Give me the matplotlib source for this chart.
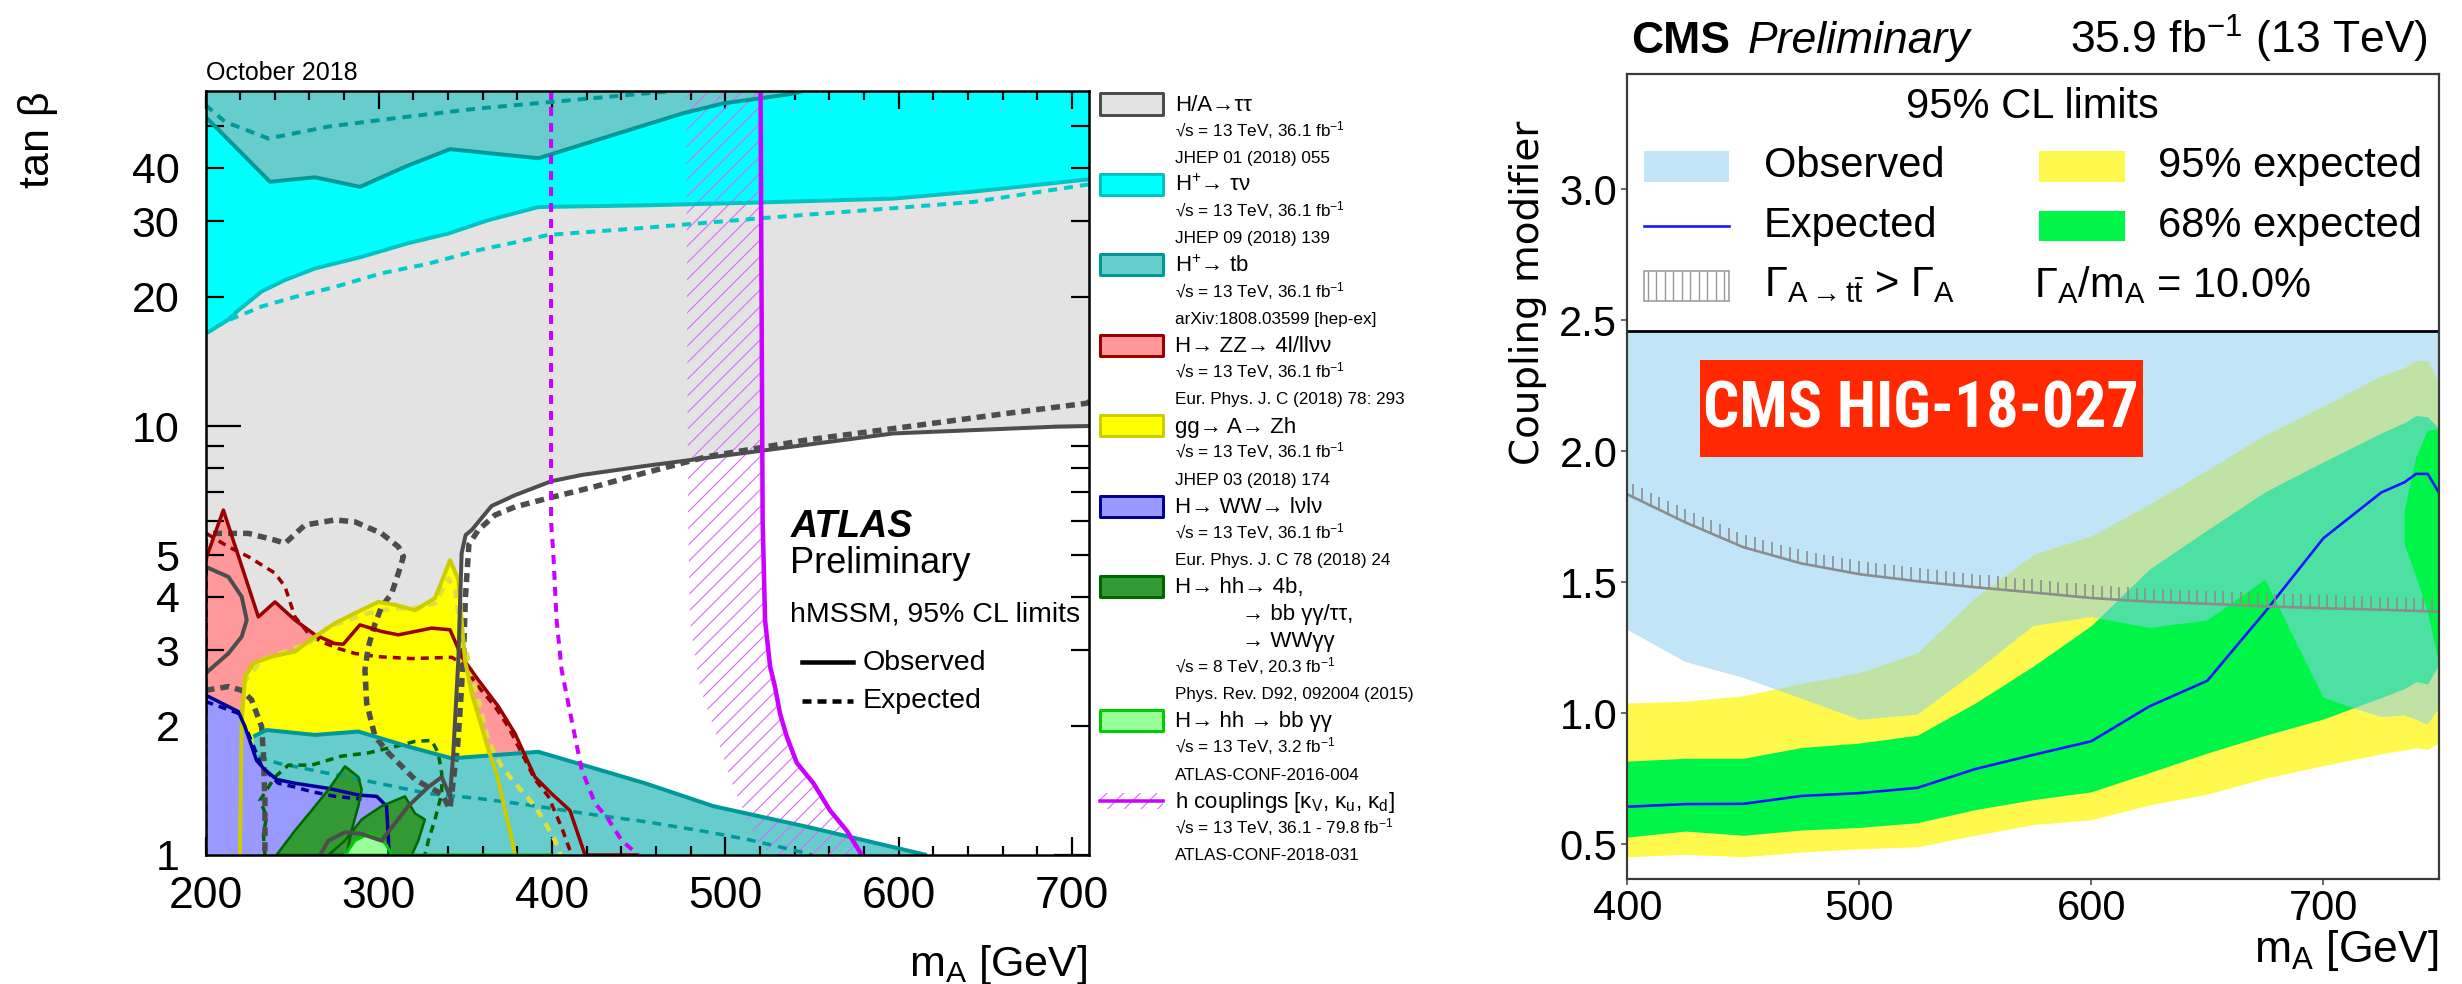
import numpy as np
import matplotlib
matplotlib.use("Agg")
import matplotlib.pyplot as plt
from matplotlib.patches import Polygon, Rectangle
from matplotlib.lines import Line2D
from matplotlib.ticker import FixedLocator, FuncFormatter
from matplotlib import font_manager

# ===================== DATA : ATLAS hMSSM summary (m_A [GeV], tan beta) =====================
tautau_obs_x = [710, 689.2, 596.9, 479.6, 453.6, 417.1, 399.7, 378.6, 365.1, 358.4, 353.6, 350.1, 347.8,
                345.9, 343.0, 341.1, 336.3, 328.6, 317.0, 301.6, 290.1, 280.5, 270.9, 266.1]
tautau_obs_y = [10.0, 9.96, 9.61, 8.33, 8.07, 7.69, 7.44, 6.90, 6.51, 6.04, 5.72, 5.57, 5.05,
                2.85, 1.73, 1.37, 1.52, 1.44, 1.30, 1.08, 1.12, 1.13, 1.08, 1.0]
tautau_loop_x = [200, 213.2, 220.9, 223.8, 220.9, 213.2, 200]
tautau_loop_y = [4.70, 4.45, 4.00, 3.53, 3.23, 2.95, 2.65]
tautau_exp_x = [710, 708.4, 662.3, 604.6, 546.9, 489.2, 452.6, 424.5, 399.7, 378.6, 367.0, 357.4, 352.0,
                350.0, 349.0, 347.0, 345.5, 341.0, 336.3, 328.6, 320.9, 313.2, 305.5, 297.8, 293.0, 292.0,
                294.0, 297.8, 301.6, 307.4, 311.3, 314.2, 311.3, 301.6, 286.2, 274.7, 257.4, 245.9, 240.1,
                224.7, 213.2, 200]
tautau_exp_y = [11.4, 11.3, 10.7, 9.96, 9.28, 8.48, 7.76, 7.22, 6.82, 6.48, 6.20, 5.72, 5.30,
                4.00, 3.00, 2.20, 1.80, 1.28, 1.39, 1.44, 1.50, 1.61, 1.73, 1.89, 2.26, 2.70,
                3.06, 3.46, 3.79, 4.07, 4.54, 4.96, 5.23, 5.62, 5.98, 6.04, 5.88, 5.33, 5.42,
                5.62, 5.62, 5.62]
tautau_exp2_x = [200, 213.2, 220.9, 226.6, 232.4, 233.4, 234.3, 234.3]
tautau_exp2_y = [2.42, 2.47, 2.42, 2.30, 1.99, 1.73, 1.32, 1.0]

taunu_obs_x = [200, 213.2, 218.9, 232.4, 245.9, 263.2, 290.1, 317.1, 340.1, 363.2, 392.1, 453.6, 520.0,
               596.9, 643.1, 710]
taunu_obs_y = [16.4, 17.7, 18.6, 20.6, 21.9, 23.3, 24.8, 26.7, 28.1, 30.2, 32.4, 32.7, 33.2,
               33.9, 35.2, 37.6]
taunu_exp_x = [214.1, 232.4, 251.6, 274.7, 301.6, 328.6, 357.4, 376.7, 397.8, 449.8, 520.0, 596.9, 643.1, 710]
taunu_exp_y = [17.7, 19.0, 20.0, 21.1, 22.7, 23.9, 25.7, 26.7, 27.9, 28.9, 30.5, 32.2, 33.3, 36.6]

tb_top_obs_x = [200, 237.2, 263.2, 289.2, 315.1, 341.1, 392.1, 453.6, 475.7, 498.8, 537.3, 545]
tb_top_obs_y = [52.6, 37.1, 38.0, 36.1, 40.2, 44.2, 42.1, 50.3, 53.6, 56.5, 59.4, 60.4]
tb_top_exp_x = [200, 211.3, 236.3, 270.9, 309.4, 357.4, 400.7, 453.6, 470]
tb_top_exp_y = [56.0, 51.2, 46.8, 49.9, 52.2, 55.0, 57.0, 59.6, 60.4]
tb_bot_obs_x = [227.6, 235.3, 263.2, 288.2, 317.1, 342.1, 392.1, 453.6, 493.0, 546.9, 616.1]
tb_bot_obs_y = [1.888, 1.956, 1.905, 1.94, 1.789, 1.68, 1.74, 1.47, 1.30, 1.164, 1.0]
tb_bot_exp_x = [230.5, 242, 270.9, 299.8, 328.6, 357.4, 386.3, 424.7, 453.6, 489.2, 514.2, 543.1, 550]
tb_bot_exp_y = [1.695, 1.636, 1.55, 1.47, 1.39, 1.355, 1.308, 1.24, 1.196, 1.133, 1.084, 1.018, 1.0]

zz_obs_x = [200, 210.3, 230.5, 240.1, 251.6, 263.2, 274.7, 279.5, 289.1, 301.6, 311.3, 330.5, 341.1, 347.8,
            357.4, 369.0, 378.6, 390.1, 399.7, 410.3, 419.0, 450]
zz_obs_y = [4.87, 6.37, 3.59, 3.89, 3.53, 3.26, 3.11, 3.10, 3.44, 3.32, 3.26, 3.38, 3.35, 2.90,
            2.56, 2.22, 1.92, 1.52, 1.39, 1.27, 1.0, 1.0]
zz_exp_x = [200, 200.5, 213.2, 224.7, 240.1, 245.9, 251.6, 259.3, 267.0, 276.6, 286.2, 299.8, 319.0, 342.1,
            347.8, 357.4, 367.0, 374.7, 382.4, 390.1, 397.8, 405.5, 411.3]
zz_exp_y = [1.0, 5.62, 5.23, 4.96, 4.54, 4.22, 3.59, 3.29, 3.14, 3.03, 2.95, 2.90, 2.87, 2.89,
            2.80, 2.47, 2.22, 1.99, 1.73, 1.50, 1.37, 1.16, 1.0]

zh_obs_x = [219.9, 220.9, 222.8, 227.6, 238.2, 251.6, 263.2, 274.7, 286.2, 299.7, 309.4, 320.9, 332.4, 338.2,
            341.1, 345.9, 347.8, 349.7, 353.6, 359.4, 363.2, 368.0, 371.9, 375.7, 378.6]
zh_obs_y = [1.0, 2.06, 2.60, 2.80, 2.90, 2.98, 3.23, 3.47, 3.66, 3.89, 3.83, 3.72, 3.97, 4.54,
            4.87, 4.38, 3.53, 2.85, 2.38, 1.99, 1.76, 1.55, 1.32, 1.14, 1.0]
zh_exp_x = [221.8, 232.4, 259.3, 270.9, 282.4, 294.0, 309.4, 320.9, 332.4, 340.1, 344.0, 347.8, 351.7, 355.5,
            359.4, 363.2, 370.9, 380.5, 390.1, 395.9, 401.7, 405]
zh_exp_y = [2.51, 2.85, 3.11, 3.40, 3.53, 3.66, 3.76, 3.76, 3.86, 4.41, 4.15, 3.23, 2.85, 2.47,
            2.14, 1.85, 1.61, 1.44, 1.30, 1.19, 1.08, 1.0]

ww_obs_x = [200, 218.9, 222.8, 229.5, 234.3, 241.1, 251.6, 270.9, 288.2, 298.8, 304.5, 306]
ww_obs_y = [2.36, 2.16, 1.99, 1.66, 1.58, 1.50, 1.47, 1.43, 1.38, 1.37, 1.30, 1.0]
ww_exp_x = [200, 218.9, 224.7, 232.4, 242.0, 251.6, 261.2, 274.7, 290]
ww_exp_y = [2.28, 2.14, 1.92, 1.61, 1.47, 1.44, 1.405, 1.37, 1.35]

hh_blob1_x = [241.0, 251.6, 261.2, 270.9, 280.5, 288.2, 290.1, 288.2, 284.3, 281.4]
hh_blob1_y = [1.0, 1.14, 1.27, 1.42, 1.61, 1.52, 1.42, 1.30, 1.14, 1.0]
hh_blob2_x = [270.9, 280.5, 290.1, 301.6, 315.1, 320.9, 326.6, 322.8, 319.0]
hh_blob2_y = [1.0, 1.08, 1.21, 1.30, 1.37, 1.25, 1.21, 1.08, 1.0]
hh_exp_x = [234.3, 233.4, 235.3, 231.4, 240.1, 247.8, 261.2, 278.5, 294.0, 309.4, 320.9, 330.5, 334.3,
            336.3, 336.3, 332.4, 328.6, 326.6]
hh_exp_y = [1.0, 1.12, 1.23, 1.34, 1.52, 1.62, 1.62, 1.70, 1.73, 1.79, 1.84, 1.85, 1.73,
            1.55, 1.39, 1.21, 1.08, 1.0]
bbgg_x = [280.5, 286.2, 294.0, 299.8, 304.5, 307.4, 400]
bbgg_y = [1.0, 1.08, 1.12, 1.10, 1.055, 1.0, 1.0]

hcoup_obs_x = [520.3, 521.5, 522.9, 525.8, 528.6, 531.5, 535.4, 541.2, 550.8, 560.4, 570.0, 578.7]
hcoup_obs_y = [60.4, 6.0, 3.53, 2.75, 2.47, 2.14, 1.89, 1.64, 1.47, 1.27, 1.14, 1.0]
hcoup_band_x = [477.3, 478.5, 479.6, 485.3, 494.9, 504.6, 518.0, 527.6]
hcoup_band_y = [60.4, 6.0, 3.5, 2.47, 1.89, 1.44, 1.08, 1.0]
hcoup_exp_x = [399.4, 399.4, 400.7, 402.6, 405.5, 411.3, 417.1, 424.8, 432.5, 440.2, 449.8]
hcoup_exp_y = [60.4, 6.0, 5.05, 3.53, 2.70, 2.06, 1.58, 1.32, 1.21, 1.08, 1.0]

atlas_xticks = [200, 300, 400, 500, 600, 700]
atlas_ylabels = [1, 2, 3, 4, 5, 10, 20, 30, 40]

# ===================== DATA : CMS HIG-18-027 (m_A [GeV], coupling modifier) =====================
cms_mass = [400, 425, 450, 475, 500, 525, 550, 575, 600, 625, 650, 675, 700, 725, 735, 740, 745, 750]
cms_expected = [0.643, 0.653, 0.654, 0.684, 0.695, 0.715, 0.787, 0.841, 0.893, 1.026, 1.124, 1.388,
                1.668, 1.843, 1.882, 1.914, 1.914, 1.84]
cms_68_lo = [0.527, 0.550, 0.534, 0.554, 0.564, 0.582, 0.632, 0.670, 0.700, 0.773, 0.848, 0.916,
             0.978, 1.06, 1.094, 1.121, 1.112, 1.19]
cms_68_hi = [0.817, 0.828, 0.828, 0.869, 0.886, 0.916, 1.039, 1.18, 1.335, 1.55, 1.70, 1.846,
             1.96, 2.07, 2.11, 2.137, 2.132, 2.085]
cms_95_lo = [0.452, 0.461, 0.452, 0.470, 0.482, 0.490, 0.534, 0.575, 0.593, 0.650, 0.691, 0.752,
             0.800, 0.845, 0.86, 0.868, 0.862, 0.889]
cms_95_hi = [1.039, 1.046, 1.067, 1.114, 1.155, 1.231, 1.442, 1.606, 1.677, 1.798, 1.929, 2.064,
             2.173, 2.289, 2.32, 2.347, 2.347, 2.262]
cms_obs_x = [400, 425, 450, 475, 500, 525, 550, 575, 600, 625, 650, 675, 700, 712, 725, 735, 745, 750]
cms_obs_y = [1.319, 1.196, 1.135, 1.056, 0.975, 0.994, 1.157, 1.333, 1.367, 1.326, 1.354, 1.51,
             1.06, 1.022, 0.985, 0.992, 0.957, 1.019]
cms_obs_gap_x = [750, 745, 740, 735, 735, 740, 745, 750]
cms_obs_gap_y = [1.19, 1.388, 1.524, 1.647, 1.770, 1.975, 2.078, 2.085]
gamma_x = [400, 425, 450, 475, 500, 525, 550, 575, 600, 625, 650, 675, 700, 725, 750]
gamma_y = [1.836, 1.729, 1.634, 1.572, 1.531, 1.504, 1.481, 1.461, 1.440, 1.426, 1.418, 1.408,
           1.401, 1.395, 1.388]
cms_xticks = [400, 500, 600, 700]
cms_yticks = [0.5, 1.0, 1.5, 2.0, 2.5, 3.0]

# ===================== STYLE / LAYOUT =====================
W, H, DPI = 2462, 984, 100
plt.rcParams['font.family'] = ['Liberation Sans', 'DejaVu Sans']
plt.rcParams['mathtext.fontset'] = 'custom'
plt.rcParams['mathtext.rm'] = 'Liberation Sans'
plt.rcParams['mathtext.it'] = 'Liberation Sans:italic'
plt.rcParams['mathtext.bf'] = 'Liberation Sans:bold'
plt.rcParams['hatch.linewidth'] = 0.8


def pt(px):
    return px * 72.0 / DPI


def fx(x):
    return x / W


def fy(y):
    return 1.0 - y / H


def dash(on, off, lwpx):
    return (0, (on / lwpx, off / lwpx))


fig = plt.figure(figsize=(W / DPI, H / DPI), dpi=DPI)
fig.patch.set_facecolor('white')

# ----------------------------- ATLAS panel -----------------------------
YT = 60.4
ax = fig.add_axes([fx(205.5), fy(855), (1089.3 - 205.5) / W, (855 - 91) / H])
ax.set_xlim(200, 710)
ax.set_yscale('log')
ax.set_ylim(1, YT)


def poly(xs, ys, fc, z):
    ax.add_patch(Polygon(np.column_stack([xs, ys]), closed=True, fc=fc, ec='none', lw=0, zorder=z))


def line(xs, ys, color, lwpx, dashed=None, z=4):
    ls = '-' if dashed is None else dash(dashed[0], dashed[1], lwpx)
    ax.plot(xs, ys, color=color, lw=pt(lwpx), ls=ls, zorder=z, solid_joinstyle='round',
            dash_capstyle='butt', solid_capstyle='butt')


C_TT, C_TT_L = '#e3e3e3', '#4d4d4d'
C_TN, C_TN_L = '#00ffff', '#00c4c4'
C_TB, C_TB_L = '#66cccc', '#009999'
C_ZZ, C_ZZ_L = '#ff9999', '#990000'
C_ZH, C_ZH_L = '#ffff00', '#cccc00'
C_WW, C_WW_L = '#9999ff', '#000099'
C_HH, C_HH_L = '#339933', '#006600'
C_BB, C_BB_L = '#99ff99', '#00cc00'
C_HC = '#cc00ff'

poly([200, 710] + tautau_obs_x + [200], [YT, YT] + tautau_obs_y + [1.0], C_TT, 1.0)
poly(taunu_obs_x + [710, 200], taunu_obs_y + [YT, YT], C_TN, 1.1)
poly(tb_top_obs_x + [200], tb_top_obs_y + [YT], C_TB, 1.2)
poly([200] + zz_obs_x, [1.0] + zz_obs_y, C_ZZ, 1.3)
poly(zh_obs_x, zh_obs_y, C_ZH, 1.4)
poly([227.6] + tb_bot_obs_x, [1.0] + tb_bot_obs_y, C_TB, 1.5)
poly([200] + ww_obs_x, [1.0] + ww_obs_y, C_WW, 1.6)
poly(hh_blob1_x, hh_blob1_y, C_HH, 1.7)
poly(hh_blob2_x, hh_blob2_y, C_HH, 1.7)
poly(bbgg_x, bbgg_y, C_BB, 1.8)
ax.add_patch(Polygon(np.column_stack([hcoup_band_x + hcoup_obs_x[::-1], hcoup_band_y + hcoup_obs_y[::-1]]),
                     closed=True, fc='none', ec='#d86bff', lw=0, hatch='//', zorder=2.5))

# expected (dashed)
line(tb_top_exp_x, tb_top_exp_y, C_TB_L, 4, (9, 7))
line(taunu_exp_x, taunu_exp_y, '#00cccc', 4, (9, 7))
line(tb_bot_exp_x, tb_bot_exp_y, C_TB_L, 3.5, (9, 7))
line(zz_exp_x, zz_exp_y, C_ZZ_L, 3.5, (8, 6))
line(zh_exp_x, zh_exp_y, '#dede40', 4.5, (9, 7))
line(ww_exp_x, ww_exp_y, C_WW_L, 3.5, (8, 6))
line(hh_exp_x, hh_exp_y, C_HH_L, 3.5, (8, 6))
line(tautau_exp_x, tautau_exp_y, C_TT_L, 5.5, (9, 6))
line(tautau_exp2_x, tautau_exp2_y, C_TT_L, 5.5, (9, 6))
line(hcoup_exp_x, hcoup_exp_y, C_HC, 4, (9, 7), z=5)
# observed (solid)
line(tb_top_obs_x, tb_top_obs_y, C_TB_L, 4)
line(taunu_obs_x, taunu_obs_y, C_TN_L, 4)
line(tb_bot_obs_x, tb_bot_obs_y, C_TB_L, 4)
line(zz_obs_x, zz_obs_y, C_ZZ_L, 3.5)
line(zh_obs_x, zh_obs_y, C_ZH_L, 4)
line(ww_obs_x, ww_obs_y, C_WW_L, 3.5)
line(hh_blob1_x + hh_blob1_x[:1], hh_blob1_y + hh_blob1_y[:1], C_HH_L, 2.5)
line(hh_blob2_x + hh_blob2_x[:1], hh_blob2_y + hh_blob2_y[:1], C_HH_L, 2.5)
line(bbgg_x, bbgg_y, C_BB_L, 3)
line(tautau_obs_x, tautau_obs_y, C_TT_L, 4)
line(tautau_loop_x, tautau_loop_y, C_TT_L, 4)
line(hcoup_obs_x, hcoup_obs_y, C_HC, 4.5, z=5)

for s in ax.spines.values():
    s.set_linewidth(pt(2.5))
    s.set_zorder(10)
ax.set_xticks(atlas_xticks)
ax.xaxis.set_minor_locator(FixedLocator(np.arange(200, 711, 20)))
ax.yaxis.set_major_locator(FixedLocator([1, 10]))
ax.yaxis.set_minor_locator(FixedLocator([2, 3, 4, 5, 6, 7, 8, 9, 20, 30, 40, 50]))
ax.yaxis.set_major_formatter(FuncFormatter(lambda v, p: '%g' % v))
ax.yaxis.set_minor_formatter(FuncFormatter(lambda v, p: ('%g' % v) if round(v) in atlas_ylabels else ''))
ax.xaxis.set_major_formatter(FuncFormatter(lambda v, p: '%d' % v))
ax.tick_params(axis='x', which='major', direction='in', length=pt(18), width=pt(2.2), top=True,
               labelsize=32, pad=pt(21))
ax.tick_params(axis='x', which='minor', direction='in', length=pt(9), width=pt(2.2), top=True)
ax.tick_params(axis='y', which='major', direction='in', length=pt(35), width=pt(2.2), right=True,
               labelsize=31, pad=pt(26))
ax.tick_params(axis='y', which='minor', direction='in', length=pt(17.7), width=pt(2.2), right=True,
               labelsize=31, pad=pt(26))

fig.text(fx(205.5), fy(72.5), 'October 2018', fontsize=18, va='center', ha='left')
fig.text(fx(38), fy(91), 'tan β', fontsize=31, rotation=90, va='top', ha='center')
fig.text(fx(1087), fy(976), r'm$_\mathregular{A}$ [GeV]', fontsize=31, va='baseline', ha='right')
fig.text(fx(791), fy(536.7), 'ATLAS', fontsize=27, weight='bold', style='italic', va='baseline')
fig.text(fx(790), fy(573.3), 'Preliminary', fontsize=26, va='baseline')
fig.text(fx(790), fy(621.7), 'hMSSM, 95% CL limits', fontsize=20.5, va='baseline')
fig.add_artist(Line2D([fx(801.7), fx(853.3)], [fy(661.7), fy(661.7)], color='black', lw=pt(4.5)))
fig.add_artist(Line2D([fx(801.7), fx(853.3)], [fy(701), fy(701)], color='black', lw=pt(4.5),
                      ls=dash(9, 6, 4.5)))
fig.text(fx(863), fy(670), 'Observed', fontsize=20.5, va='baseline')
fig.text(fx(863), fy(708.3), 'Expected', fontsize=20.5, va='baseline')

# ATLAS legend
sub13 = r'√s = 13 TeV, 36.1 fb$^\mathregular{-1}$'
legend_entries = [
    (C_TT, C_TT_L, ['H/A→ττ'], [sub13, 'JHEP 01 (2018) 055']),
    (C_TN, C_TN_L, [r'H$^\mathregular{+}$→ τν'], [sub13, 'JHEP 09 (2018) 139']),
    (C_TB, C_TB_L, [r'H$^\mathregular{+}$→ tb'], [sub13, 'arXiv:1808.03599 [hep-ex]']),
    (C_ZZ, C_ZZ_L, ['H→ ZZ→ 4l/llνν'], [sub13, 'Eur. Phys. J. C (2018) 78: 293']),
    (C_ZH, C_ZH_L, ['gg→ A→ Zh'], [sub13, 'JHEP 03 (2018) 174']),
    (C_WW, C_WW_L, ['H→ WW→ lνlν'], [sub13, 'Eur. Phys. J. C 78 (2018) 24']),
    (C_HH, C_HH_L, ['H→ hh→ 4b,', '→ bb γγ/ττ,', '→ WWγγ'],
     [r'√s = 8 TeV, 20.3 fb$^\mathregular{-1}$', 'Phys. Rev. D92, 092004 (2015)']),
    (C_BB, C_BB_L, ['H→ hh → bb γγ'], [r'√s = 13 TeV, 3.2 fb$^\mathregular{-1}$', 'ATLAS-CONF-2016-004']),
    (None, C_HC, [r'h couplings [κ$_\mathregular{V}$, κ$_\mathregular{u}$, κ$_\mathregular{d}$]'],
     [r'√s = 13 TeV, 36.1 - 79.8 fb$^\mathregular{-1}$', 'ATLAS-CONF-2018-031']),
]
n = 0
for fc, ec, mains, subs in legend_entries:
    yb = 111 + n * 26.8
    yc = yb - 7
    if fc is not None:
        fig.add_artist(Rectangle((fx(1100), fy(yc + 10.5)), 63 / W, 21 / H, fc=fc, ec=ec, lw=pt(3),
                                 transform=fig.transFigure, joinstyle='round'))
    else:
        fig.add_artist(Rectangle((fx(1100), fy(yc + 8)), 63 / W, 16 / H, fc='none', ec='#d86bff', lw=0,
                                 hatch='//', transform=fig.transFigure))
        fig.add_artist(Line2D([fx(1100), fx(1163)], [fy(yc), fy(yc)], color=ec, lw=pt(3.5)))
    for k, t in enumerate(mains):
        xt = 1175 if k == 0 else 1241.7
        fig.text(fx(xt), fy(111 + n * 26.8), t, fontsize=16, va='baseline')
        n += 1
    for t in subs:
        fig.text(fx(1175), fy(111 + n * 26.8 - 1.5), t, fontsize=12.3, va='baseline')
        n += 1

# ----------------------------- CMS panel -----------------------------
YB2, YT2 = 0.367, 3.441
LEG_Y = 2.46
ax2 = fig.add_axes([fx(1627.3), fy(879), (2439.3 - 1627.3) / W, (879 - 74) / H])
ax2.set_xlim(400, 750)
ax2.set_ylim(YB2, YT2)
ax2.fill_between(cms_mass, cms_95_lo, cms_95_hi, color='#fff94d', lw=0, zorder=1)
ax2.fill_between(cms_mass, cms_68_lo, cms_68_hi, color='#00f548', lw=0, zorder=1.1)
obs_px = cms_obs_x + cms_obs_gap_x + [750, 400]
obs_py = cms_obs_y + cms_obs_gap_y + [YT2, YT2]
ax2.add_patch(Polygon(np.column_stack([obs_px, obs_py]), closed=True, fc=(142 / 255, 207 / 255, 240 / 255),
                      alpha=0.54, ec='none', lw=0, zorder=1.2))
ax2.plot(cms_mass, cms_expected, color='#1414ff', lw=pt(2.6), zorder=3)
ax2.plot(gamma_x, gamma_y, color='#8c8c8c', lw=pt(2.6), zorder=3)
hx = np.arange(402.6, 750, 3.74)
hy = np.interp(hx, gamma_x, gamma_y)
ax2.vlines(hx, hy, hy + 0.05, color='#8c8c8c', lw=pt(1.6), zorder=3)
frac = (LEG_Y - YB2) / (YT2 - YB2)
ax2.add_patch(Rectangle((0, frac), 1, 1 - frac, transform=ax2.transAxes, fc='white', ec='none', zorder=5))
ax2.axhline(LEG_Y, color='black', lw=pt(2.8), zorder=6)
for s in ax2.spines.values():
    s.set_linewidth(pt(2.2))
    s.set_color('#3a3a3a')
    s.set_zorder(10)
ax2.set_xticks(cms_xticks)
ax2.set_yticks(cms_yticks)
ax2.xaxis.set_major_formatter(FuncFormatter(lambda v, p: '%d' % v))
ax2.yaxis.set_major_formatter(FuncFormatter(lambda v, p: '%.1f' % v))
ax2.tick_params(axis='both', direction='out', length=pt(6), width=pt(1.5), labelsize=30, color='#3a3a3a')
ax2.tick_params(axis='x', pad=pt(4))
ax2.tick_params(axis='y', pad=pt(4))

fig.text(fx(1630.8), fy(53.3), 'CMS', fontsize=32, weight='bold', va='baseline')
fig.text(fx(1748), fy(53.3), 'Preliminary', fontsize=32, style='italic', va='baseline')
fig.text(fx(2428), fy(53.3), r'35.9 fb$^\mathregular{-1}$ (13 TeV)', fontsize=32, va='baseline', ha='right')
fig.text(fx(1528), fy(293), 'Coupling modifier', fontsize=28, rotation=90, va='center', ha='center',
         family=['DejaVu Sans'])
fig.text(fx(2438), fy(962), r'm$_\mathregular{A}$ [GeV]', fontsize=32, va='baseline', ha='right')

# CMS legend
fig.text(fx(2032), fy(107), '95% CL limits', fontsize=30, va='center', ha='center', zorder=20)


def frect(x0, x1, y0, y1, **kw):
    fig.add_artist(Rectangle((fx(x0), fy(y1)), (x1 - x0) / W, (y1 - y0) / H, transform=fig.transFigure,
                             zorder=20, **kw))


frect(1643.7, 1728.9, 150.7, 181.7, fc='#c2e5f7', ec='none')
frect(2038.8, 2124.6, 150.7, 181.7, fc='#fff94d', ec='none')
frect(2038.8, 2124.6, 210.7, 241.0, fc='#00f548', ec='none')
fig.add_artist(Line2D([fx(1643.7), fx(1728.9)], [fy(225.7), fy(225.7)], color='#1414ff', lw=pt(2.6), zorder=20))
frect(1643.7, 1728.9, 270.7, 301.0, fc='white', ec='#9a9a9a', lw=pt(1.6))
for xv in np.linspace(1648, 1724, 10):
    fig.add_artist(Line2D([fx(xv), fx(xv)], [fy(272), fy(300)], color='#9a9a9a', lw=pt(1.4), zorder=21))
fig.text(fx(1764), fy(165.7), 'Observed', fontsize=30, va='center', zorder=20)
fig.text(fx(2158), fy(165.7), '95% expected', fontsize=30, va='center', zorder=20)
fig.text(fx(1764), fy(225.7), 'Expected', fontsize=30, va='center', zorder=20)
fig.text(fx(2158), fy(225.7), '68% expected', fontsize=30, va='center', zorder=20)
fig.text(fx(1764), fy(285), r'$\Gamma_{\mathregular{A\rightarrow t\bar{t}}}$ > $\Gamma_\mathregular{A}$',
         fontsize=30, va='center', zorder=20)
fig.text(fx(2034), fy(285), r'$\Gamma_\mathregular{A}$/m$_\mathregular{A}$ = 10.0%', fontsize=30, va='center',
         zorder=20)

# red label
fl = font_manager.fontManager.ttflist
names = {f.name for f in fl}
lab_kw = dict(family=['Liberation Sans'], fontsize=39)
if 'Liberation Sans Narrow' in names:
    lab_kw = dict(family=['Liberation Sans Narrow'], fontsize=47)
elif 'Roboto Condensed' in names:
    lab_kw = dict(family=['Roboto Condensed'], fontsize=46)
elif any(f.name == 'DejaVu Sans' and f.stretch == 'condensed' and f.weight in ('bold', 700) for f in fl):
    lab_kw = dict(family=['DejaVu Sans'], fontsize=40, fontstretch='condensed')
frect(1700, 2142.7, 360, 456.7, fc='#ff2800', ec='none')
fig.text(fx(1921.3), fy(410), 'CMS HIG-18-027', weight='bold', color='white',
         va='center', ha='center', zorder=22, **lab_kw)

fig.savefig('out.png', dpi=DPI)
